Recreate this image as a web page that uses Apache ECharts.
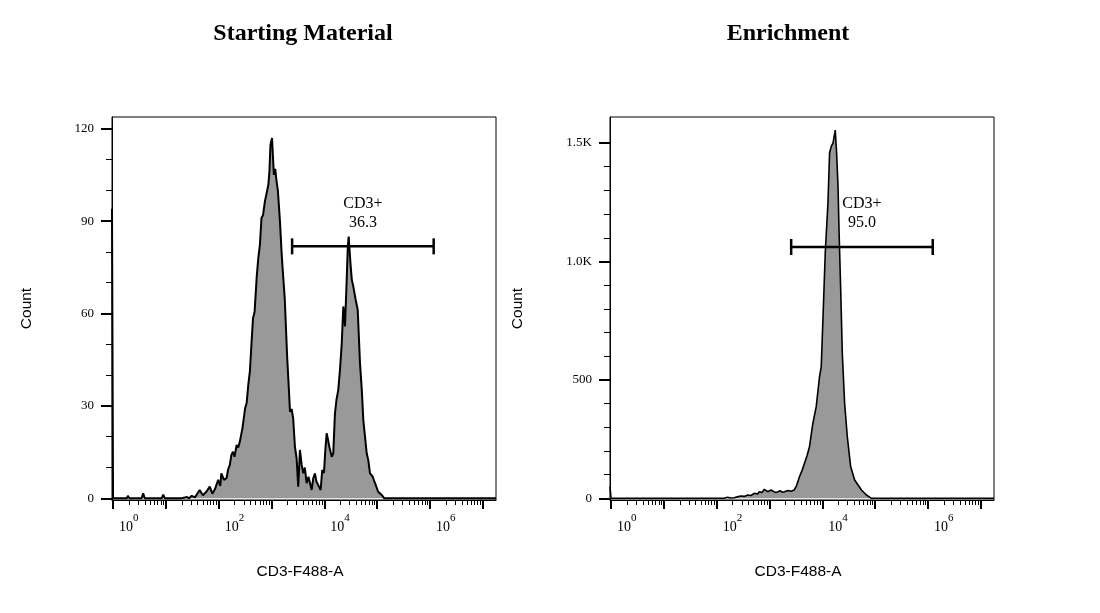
<!DOCTYPE html>
<html>
<head>
<meta charset="utf-8">
<script src="https://cdn.jsdelivr.net/npm/echarts@6/dist/echarts.min.js"></script>
<style>
html,body{margin:0;padding:0;background:#fff;}
#chart{width:1100px;height:613px;}
</style>
</head>
<body>
<div id="chart"></div>
<script>
// ---- Data (x in log10 units of CD3-F488-A intensity) ----
const panelTitles = ['Starting Material', 'Enrichment'];
const axisNameX = 'CD3-F488-A';
const axisNameY = 'Count';

const startLogX = [-0.02,0.00,0.26,0.28,0.31,0.54,0.57,0.60,0.92,0.95,0.98,1.30,1.40,1.44,1.49,1.55,1.64,1.70,1.77,1.83,1.88,1.93,1.99,2.03,2.05,2.10,2.15,2.18,2.21,2.24,2.27,2.30,2.34,2.37,2.40,2.45,2.50,2.53,2.56,2.59,2.62,2.65,2.68,2.72,2.75,2.78,2.81,2.84,2.875,2.91,2.94,2.96,2.98,3.01,3.03,3.045,3.07,3.096,3.12,3.14,3.16,3.19,3.21,3.25,3.297,3.33,3.35,3.38,3.41,3.443,3.475,3.506,3.538,3.57,3.60,3.63,3.665,3.70,3.73,3.76,3.79,3.822,3.85,3.885,3.93,3.96,3.993,4.02,4.044,4.07,4.093,4.14,4.169,4.201,4.23,4.264,4.296,4.33,4.359,4.391,4.423,4.445,4.461,4.48,4.499,4.52,4.548,4.594,4.632,4.675,4.71,4.738,4.77,4.802,4.832,4.865,4.916,4.96,4.99,5.02,5.086,5.135,7.25];
const startCount = [94,0,0,0.8,0,0,1.6,0,0,1.2,0,0,0.4,0,0.8,0.3,2.7,1.0,2.2,3.8,1.5,3.0,6.0,4.0,8.1,6.0,6.6,9.5,10.8,14,15.1,13.5,17.3,16.5,18.4,22.8,29.2,31,36.8,41.1,50,58.5,60.6,72,78,82.3,91,92,96.4,97,101.8,106,114.8,117,110,105,107,102.9,100,99.6,89.9,80,74.7,65,45.6,35,28.1,29,26,16.8,13,3.8,15.7,11,8.1,10,4.9,7,7.0,2.7,6.5,8.1,5.5,4.9,2.7,9.2,8.2,16,21.1,19,16.8,13.5,14.6,27.6,32,35.2,41.7,50.4,62.3,55.8,70.9,82,85,80,75.3,71,68.8,64.4,61.2,43.9,35,25.4,20,14.6,12.4,8.1,7.0,4.9,3.5,2.1,1.1,0,0];

const enrichLogX = [-0.02,0.00,2.14,2.205,2.27,2.33,2.39,2.458,2.52,2.586,2.648,2.711,2.776,2.806,2.857,2.901,2.93,2.966,3.029,3.07,3.124,3.16,3.2,3.24,3.281,3.352,3.409,3.466,3.504,3.567,3.62,3.662,3.71,3.757,3.821,3.884,3.947,3.979,4.011,4.055,4.106,4.137,4.169,4.202,4.245,4.27,4.297,4.316,4.346,4.378,4.422,4.473,4.536,4.612,4.677,4.74,4.835,4.93,7.25];
const enrichCount = [49,0,0,4,1,2,6,10,8,14,12,21,18,28,24,38,30,28,35,30,24,30,32,26,28,33,30,35,49,91,120,148,180,218,317,387,514,556,753,1035,1246,1458,1486,1500,1555,1458,1317,1134,894,613,401,260,134,77,56,35,14,0,0];

// gates
const gateNames = ['CD3+', 'CD3+'];
const gatePercents = ['36.3', '95.0'];
const gateFrom = [3.39, 3.41];
const gateTo = [6.07, 6.09];
const gateLevel = [81.8, 1061];

// axis ticks
const xMajorExp = [0,1,2,3,4,5,6,7];
const xLabelExp = [0,2,4,6];
const leftYTicks = [0,30,60,90,120];
const leftYLabels = ['0','30','60','90','120'];
const leftYMinor = [10,20,40,50,70,80,100,110];
const rightYTicks = [0,500,1000,1500];
const rightYLabels = ['0','500','1.0K','1.5K'];
const rightYMinor = [100,200,300,400,600,700,800,900,1100,1200,1300,1400];
const yRanges = [[-0.55, 123.8], [-7.2, 1610]];
const xRange = [-0.02, 7.25];

// ---- Build ----
const xMinor = [];
for (let k = 0; k < 7; k++) for (let m = 2; m <= 9; m++) xMinor.push(k + Math.log10(m));

const grids = [
  {left: 112, top: 117, width: 384, height: 383},
  {left: 610, top: 117, width: 384, height: 383}
];
const serif = '"Liberation Serif", "Times New Roman", serif';
const sans = '"Liberation Sans", Arial, sans-serif';

function xAxesFor(g) {
  return [
    {
      gridIndex: g, type: 'value', position: 'bottom', min: xRange[0], max: xRange[1],
      name: axisNameX, nameLocation: 'middle', nameGap: 64,
      nameTextStyle: {fontFamily: sans, fontSize: 15.5, color: '#000', padding: [0, 8, 0, 0]},
      axisLine: {show: true, onZero: false, lineStyle: {color: '#000', width: 1}},
      axisTick: {show: true, customValues: xMajorExp, length: 9, lineStyle: {color: '#000', width: 2}},
      axisLabel: {
        show: true, customValues: xLabelExp, margin: 13, align: 'left', padding: [0, 0, 0, 6],
        formatter: v => '{b|10}{s|' + Math.round(v) + '}',
        rich: {
          b: {fontFamily: serif, fontSize: 14, color: '#000', lineHeight: 21, verticalAlign: 'bottom'},
          s: {fontFamily: serif, fontSize: 11, color: '#000', lineHeight: 21, verticalAlign: 'top'}
        }
      },
      splitLine: {show: false}
    },
    {
      gridIndex: g, type: 'value', position: 'bottom', min: xRange[0], max: xRange[1],
      axisLine: {show: false, onZero: false},
      axisTick: {show: true, customValues: xMinor, length: 5, lineStyle: {color: '#000', width: 1}},
      axisLabel: {show: false},
      splitLine: {show: false}
    }
  ];
}
function yAxesFor(g, ticks, labels, minor, range, gap) {
  return [
    {
      gridIndex: g, type: 'value', position: 'left', min: range[0], max: range[1],
      name: axisNameY, nameLocation: 'middle', nameGap: gap,
      nameTextStyle: {fontFamily: sans, fontSize: 15.5, color: '#000'},
      axisLine: {show: true, onZero: false, lineStyle: {color: '#000', width: 1}},
      axisTick: {show: true, customValues: ticks, length: 11, lineStyle: {color: '#000', width: 2}},
      axisLabel: {
        show: true, customValues: ticks, margin: 18, fontFamily: serif, fontSize: 13, color: '#000',
        formatter: v => labels[ticks.indexOf(v)] ?? String(v)
      },
      splitLine: {show: false}
    },
    {
      gridIndex: g, type: 'value', position: 'left', min: range[0], max: range[1],
      axisLine: {show: false, onZero: false},
      axisTick: {show: true, customValues: minor, length: 6, lineStyle: {color: '#000', width: 1}},
      axisLabel: {show: false},
      splitLine: {show: false}
    }
  ];
}

function histSeries(xs, ys, xi, yi, lw) {
  return {
    type: 'line', xAxisIndex: xi, yAxisIndex: yi,
    data: xs.map((x, i) => [x, ys[i]]),
    showSymbol: false, symbol: 'none', smooth: false, sampling: null,
    lineStyle: {color: '#000', width: lw},
    areaStyle: {color: '#999999', opacity: 1},
    silent: true, animation: false, z: 2
  };
}

function gateSeries(i, xi, yi) {
  return {
    type: 'custom', xAxisIndex: xi, yAxisIndex: yi, clip: false, silent: true, animation: false, z: 5,
    data: [[gateFrom[i], gateTo[i], gateLevel[i]]],
    renderItem: function (params, api) {
      const p1 = api.coord([api.value(0), api.value(2)]);
      const p2 = api.coord([api.value(1), api.value(2)]);
      const y = p1[1];
      const cx = (p1[0] + p2[0]) / 2;
      const st = {stroke: '#000', lineWidth: 2.5};
      return {
        type: 'group',
        children: [
          {type: 'line', shape: {x1: p1[0], y1: y, x2: p2[0], y2: y}, style: st},
          {type: 'line', shape: {x1: p1[0], y1: y - 8, x2: p1[0], y2: y + 8}, style: st},
          {type: 'line', shape: {x1: p2[0], y1: y - 8, x2: p2[0], y2: y + 8}, style: st},
          {type: 'text', x: cx, y: y - 43, style: {text: gateNames[i], font: '16px ' + serif, fill: '#000',
            align: 'center', verticalAlign: 'middle', textAlign: 'center', textVerticalAlign: 'middle'}},
          {type: 'text', x: cx, y: y - 24, style: {text: gatePercents[i], font: '16px ' + serif, fill: '#000',
            align: 'center', verticalAlign: 'middle', textAlign: 'center', textVerticalAlign: 'middle'}}
        ]
      };
    }
  };
}

const chart = echarts.init(document.getElementById('chart'), null, {renderer: 'canvas'});
chart.setOption({
  backgroundColor: '#fff',
  animation: false,
  grid: grids.map(g => Object.assign({show: true, borderColor: '#000', borderWidth: 1, backgroundColor: 'transparent', containLabel: false}, g)),
  xAxis: [...xAxesFor(0), ...xAxesFor(1)],
  yAxis: [
    ...yAxesFor(0, leftYTicks, leftYLabels, leftYMinor, yRanges[0], 77),
    ...yAxesFor(1, rightYTicks, rightYLabels, rightYMinor, yRanges[1], 84)
  ],
  graphic: [
    {type: 'text', x: 303, y: 34, style: {text: panelTitles[0], font: 'bold 24px ' + serif, fill: '#000',
      align: 'center', verticalAlign: 'middle', textAlign: 'center', textVerticalAlign: 'middle'}},
    {type: 'text', x: 788, y: 34, style: {text: panelTitles[1], font: 'bold 24px ' + serif, fill: '#000',
      align: 'center', verticalAlign: 'middle', textAlign: 'center', textVerticalAlign: 'middle'}}
  ],
  series: [
    histSeries(startLogX, startCount, 0, 0, 2),
    histSeries(enrichLogX, enrichCount, 2, 2, 1.6),
    gateSeries(0, 0, 0),
    gateSeries(1, 2, 2)
  ]
});
</script>
</body>
</html>
